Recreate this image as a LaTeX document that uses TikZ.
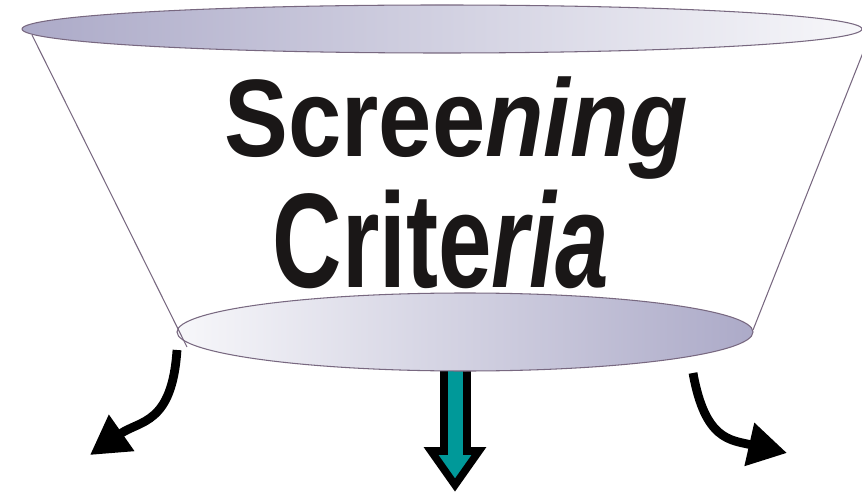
\documentclass[tikz,border=0pt]{standalone}
\usepackage{fontspec}
\setmainfont{Liberation Sans}
\usepackage{xcolor}
\usepackage{tikz}
\usetikzlibrary{arrows.meta}
\definecolor{rimline}{RGB}{120,104,128}
\definecolor{lavdark}{RGB}{172,170,200}
\definecolor{lavlight}{RGB}{247,247,250}
\definecolor{outflow}{RGB}{0,153,153}
\definecolor{inktext}{RGB}{26,23,23}

\begin{document}
\begin{tikzpicture}[x=0.02cm,y=-0.02cm,
    every node/.style={inner sep=0pt,text=inktext},
    rim/.style={draw=rimline,line width=0.6pt},
    curlarrow/.style={line width=5pt,-{Triangle[length=22pt,width=24pt]}}]
    \useasboundingbox (0,0) rectangle (862,493);
    \coordinate (ltop) at (32,35);
    \coordinate (lbot) at (187,347);
    \coordinate (rtop) at (866,45);
    \coordinate (rbot) at (753,330);
    \coordinate (lstart) at (177,350);
    \coordinate (lend) at (90,455);
    \coordinate (rstart) at (693,373);
    \coordinate (rend) at (787,453);
    \draw[line width=4.3pt,fill=outflow,line join=miter] (444,360) -- (444,451) -- (431,451) -- (455,485) -- (479,451) -- (467,451) -- (467,360) -- cycle;
    \draw[rim,left color=lavdark,right color=lavlight] (442,29) ellipse [x radius=420,y radius=24];
    \draw[rim,left color=lavlight,right color=lavdark] (465,332) ellipse [x radius=288,y radius=39];
    \draw[rim] (ltop) -- (lbot);
    \draw[rim] (rtop) -- (rbot);
    \node[anchor=base] (scr) at (456,157) {\fontsize{54.5}{60}\selectfont\bfseries\scalebox{1}[1.15]{Scree\textit{ning}}};
    \node[anchor=base] (crit) at (441,287) {\fontsize{54.7}{60}\selectfont\bfseries\scalebox{1}[1.4]{Crite\textit{ria}}};
    \draw[curlarrow] (lstart) .. controls (172,425) and (140,420) .. (lend);
    \draw[curlarrow] (rstart) .. controls (705,440) and (730,440) .. (rend);
\end{tikzpicture}
\end{document}
